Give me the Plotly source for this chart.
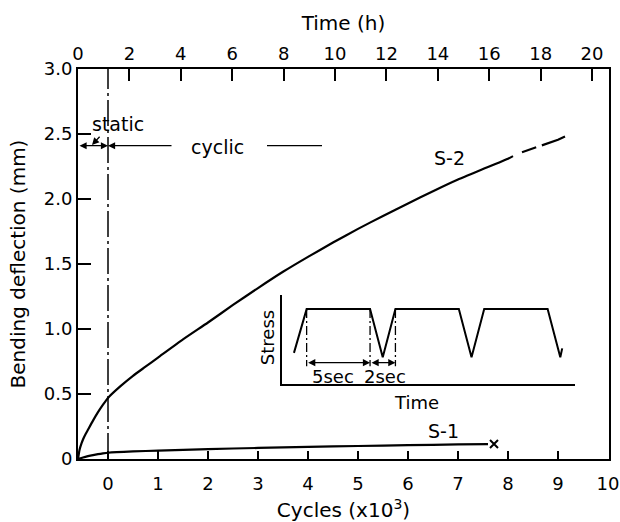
import plotly.graph_objects as go

# ---------------- data ----------------
cycles_s2 = [-0.6, -0.57, -0.53, -0.5, -0.45, -0.4, -0.3, -0.2, -0.1, 0.0, 0.25, 0.5, 0.75,
             1.0, 1.5, 2.0, 2.5, 3.0, 3.5, 4.0, 4.5, 5.0, 5.5, 6.0, 6.5, 7.0, 7.5, 8.0, 8.1]
defl_s2 = [0.0, 0.07, 0.12, 0.15, 0.19, 0.225, 0.295, 0.36, 0.418, 0.47, 0.56, 0.64, 0.71,
           0.78, 0.92, 1.05, 1.185, 1.315, 1.44, 1.555, 1.665, 1.77, 1.87, 1.965, 2.06, 2.15,
           2.23, 2.31, 2.33]
cycles_s2_dash = [8.28, 8.6, 9.0, 9.14]
defl_s2_dash = [2.36, 2.40, 2.455, 2.48]

cycles_s1 = [-0.6, -0.5, -0.4, -0.3, -0.2, -0.1, 0.0, 0.5, 1.0, 2.0, 3.0, 4.0, 5.0, 6.0, 7.0, 7.6]
defl_s1 = [0.0, 0.012, 0.022, 0.030, 0.037, 0.043, 0.048, 0.058, 0.065, 0.076, 0.085, 0.093,
           0.100, 0.106, 0.112, 0.115]
s1_fail_cycle = [7.72]
s1_fail_defl = [0.115]

static_end_cycle = 0.0
cycle_start = -0.6
cycle_end = 10.02
time_end = 20.66
cycle_ticks = list(range(0, 11))
time_ticks = list(range(0, 21, 2))
defl_ticks = [0, 0.5, 1.0, 1.5, 2.0, 2.5, 3.0]
defl_ticktext = ["0", "0.5", "1.0", "1.5", "2.0", "2.5", "3.0"]

phase_level = 2.41          # deflection level of the static / cyclic arrows
cyclic_arrow_tail = 1.3
cyclic_line = [3.18, 4.28]

# inset: loading waveform (time in s, relative stress)
wave_t = [0, 1, 6, 7, 8, 13, 14, 15, 20, 21, 21.15]
wave_stress = [0.35, 0.84, 0.84, 0.30, 0.84, 0.84, 0.30, 0.84, 0.84, 0.30, 0.40]
hold_marks = [1, 6, 8]
mark_level = 0.24

FONT = "DejaVu Sans"
BLACK = "black"

fig = go.Figure()

# vertical static/cyclic divider
fig.add_trace(go.Scatter(x=[static_end_cycle, static_end_cycle], y=[0, 3.0], mode="lines",
                         line=dict(color=BLACK, width=1.5, dash="26px,4px,3px,4px"),
                         hoverinfo="skip"))
# S-2
fig.add_trace(go.Scatter(x=cycles_s2, y=defl_s2, mode="lines",
                         line=dict(color=BLACK, width=2.2, shape="spline", smoothing=0.5)))
fig.add_trace(go.Scatter(x=cycles_s2_dash, y=defl_s2_dash, mode="lines",
                         line=dict(color=BLACK, width=2.2, dash="15px,6px,30px")))
# S-1
fig.add_trace(go.Scatter(x=cycles_s1, y=defl_s1, mode="lines",
                         line=dict(color=BLACK, width=2.2, shape="spline", smoothing=0.5)))
fig.add_trace(go.Scatter(x=s1_fail_cycle, y=s1_fail_defl, mode="markers",
                         marker=dict(symbol="x-thin", size=8, line=dict(color=BLACK, width=2))))
# cyclic dash line
fig.add_trace(go.Scatter(x=cyclic_line, y=[phase_level, phase_level], mode="lines",
                         line=dict(color=BLACK, width=1.3)))
# top axis anchor trace
fig.add_trace(go.Scatter(x=[time_ticks[0]], y=[None], xaxis="x2", yaxis="y", mode="lines"))

# inset waveform
fig.add_trace(go.Scatter(x=wave_t, y=wave_stress, xaxis="x3", yaxis="y3", mode="lines",
                         line=dict(color=BLACK, width=2)))
for t in hold_marks:
    fig.add_trace(go.Scatter(x=[t, t], y=[wave_stress[1], mark_level - 0.04], xaxis="x3", yaxis="y3",
                             mode="lines", line=dict(color=BLACK, width=1.3, dash="9px,3px,2px,3px")))

ann = []
def txt(x, y, s, size=19, xref="x", yref="y", angle=0):
    ann.append(dict(x=x, y=y, xref=xref, yref=yref, text=s, showarrow=False, textangle=angle,
                    xanchor="center", yanchor="middle",
                    font=dict(family=FONT, size=size, color=BLACK)))

def arrow(x, y, ax, ay, xref="x", yref="y", side="end"):
    ann.append(dict(x=x, y=y, ax=ax, ay=ay, xref=xref, yref=yref, axref=xref, ayref=yref,
                    text="", showarrow=True, arrowhead=2, arrowsize=1.1, arrowwidth=1.3,
                    arrowside=side, arrowcolor=BLACK, standoff=0, startstandoff=0))

txt(6.82, 2.315, "S-2")
txt(6.70, 0.215, "S-1")
txt(0.2, 2.575, "static")
txt(2.18, 2.40, "cyclic")
arrow(static_end_cycle, phase_level, cycle_start, phase_level, side="end+start")
arrow(static_end_cycle, phase_level, cyclic_arrow_tail, phase_level)
arrow(-0.32, 2.415, -0.14, 2.49)

# inset labels (paper coordinates, since they sit outside the inset axes)
txt(0.356, 0.310, "Stress", size=18, xref="paper", yref="paper", angle=-90)
txt(0.638, 0.144, "Time", size=18, xref="paper", yref="paper")
txt(3.1, 0.08, "5sec", size=18, xref="x3", yref="y3")
txt(7.2, 0.08, "2sec", size=18, xref="x3", yref="y3")
arrow(hold_marks[1], mark_level, hold_marks[0], mark_level, xref="x3", yref="y3", side="end+start")
arrow(hold_marks[2], mark_level, hold_marks[1], mark_level, xref="x3", yref="y3", side="end+start")

tick_font = dict(family=FONT, size=18, color=BLACK)
title_font = dict(family=FONT, size=20, color=BLACK)

fig.update_layout(
    width=620, height=522,
    margin=dict(l=78, r=11, t=69, b=63, autoexpand=False),
    paper_bgcolor="white", plot_bgcolor="white",
    showlegend=False,
    font=dict(family=FONT, size=18, color=BLACK),
    annotations=ann,
    xaxis=dict(range=[cycle_start, cycle_end], tickvals=cycle_ticks, ticks="inside", ticklen=8,
               tickwidth=1.5, tickcolor=BLACK, showline=True, linewidth=2, linecolor=BLACK,
               showgrid=False, zeroline=False, tickfont=tick_font, ticklabelstandoff=7,
               automargin=False,
               title=dict(text="Cycles (x10<sup>3</sup>)", font=title_font, standoff=14),
               domain=[0, 1], anchor="y"),
    xaxis2=dict(range=[0, time_end], tickvals=time_ticks, ticks="inside", ticklen=12,
                tickwidth=1.5, tickcolor=BLACK, showline=True, linewidth=2, linecolor=BLACK,
                showgrid=False, zeroline=False, tickfont=tick_font, overlaying="x", side="top",
                automargin=False,
                anchor="y", title=dict(text="Time (h)", font=title_font, standoff=7)),
    yaxis=dict(range=[0, 3.0], tickvals=defl_ticks, ticktext=defl_ticktext, ticks="inside",
               ticklen=13, tickwidth=1.5, tickcolor=BLACK, showline=True, linewidth=2,
               linecolor=BLACK, mirror=True, showgrid=False, zeroline=False, tickfont=tick_font,
               automargin=False,
               title=dict(text="Bending deflection (mm)", font=title_font, standoff=13),
               domain=[0, 1], anchor="x"),
    xaxis3=dict(domain=[0.384, 0.936], anchor="y3", range=[-0.95, 22.16], showline=True,
                linewidth=2, linecolor=BLACK, showticklabels=False, ticks="", showgrid=False,
                zeroline=False, automargin=False),
    yaxis3=dict(domain=[0.192, 0.421], anchor="x3", range=[0, 1], showline=True,
                linewidth=2, linecolor=BLACK, showticklabels=False, ticks="", showgrid=False,
                zeroline=False, automargin=False),
)

fig.write_html("out.html")
